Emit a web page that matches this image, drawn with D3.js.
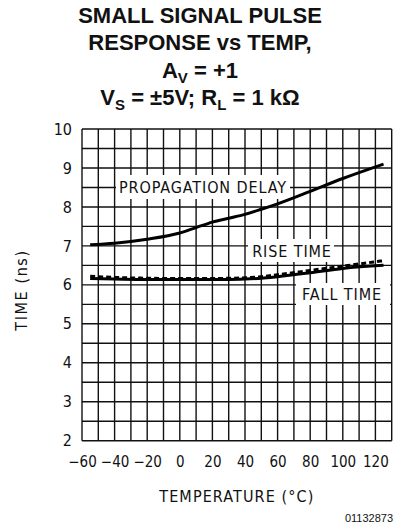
<!DOCTYPE html>
<html>
<head>
<meta charset="utf-8">
<script src="https://cdn.jsdelivr.net/npm/d3@7"></script>
<style>
  html, body { margin: 0; padding: 0; background: #fff; }
  svg { display: block; }
  .lbl { font-family: "Liberation Sans Narrow", "DejaVu Sans Condensed", "Liberation Sans", sans-serif; }
</style>
</head>
<body>
<svg id="chart" width="394" height="531"></svg>
<script>
// ---- data ----
const temps = [-55, -40, -20, 0, 10, 20, 30, 40, 50, 60, 80, 100, 125];
const propagationDelay = [7.03, 7.07, 7.17, 7.33, 7.47, 7.61, 7.71, 7.81, 7.94, 8.08, 8.4, 8.73, 9.1];
const riseTime = [6.22, 6.19, 6.17, 6.16, 6.16, 6.16, 6.17, 6.18, 6.21, 6.26, 6.37, 6.48, 6.62];
const fallTime = [6.16, 6.15, 6.14, 6.14, 6.14, 6.14, 6.14, 6.15, 6.17, 6.21, 6.31, 6.42, 6.5];
const xTickLabels = [-60, -40, -20, 0, 20, 40, 60, 80, 100, 120];
const yTickLabels = [2, 3, 4, 5, 6, 7, 8, 9, 10];
const xDomain = [-60, 130];
const yDomain = [2, 10];

const svg = d3.select("#chart");
const L = 82, R = 391.7, T = 129, B = 440.7;
const x = d3.scaleLinear().domain(xDomain).range([L, R]);
const y = d3.scaleLinear().domain(yDomain).range([B, T]);
const narrow = "Liberation Sans Narrow, DejaVu Sans Condensed, sans-serif";

// title
const tx = 200;
const tFont = "Liberation Sans, Arial, sans-serif";
function titleLine(yy) {
  return svg.append("text").attr("text-anchor", "middle").attr("x", tx).attr("y", yy)
    .attr("font-family", tFont).attr("font-weight", "bold").attr("font-size", 22).attr("fill", "#111");
}
titleLine(23).text("SMALL SIGNAL PULSE");
titleLine(50).text("RESPONSE vs TEMP,");
const l3 = titleLine(78);
l3.append("tspan").text("A");
l3.append("tspan").attr("font-size", 15).attr("dy", 5).text("V");
l3.append("tspan").attr("dy", -5).text(" = +1");
const l4 = titleLine(105);
l4.append("tspan").text("V");
l4.append("tspan").attr("font-size", 15).attr("dy", 5).text("S");
l4.append("tspan").attr("dy", -5).text(" = \u00B15V; R");
l4.append("tspan").attr("font-size", 15).attr("dy", 5).text("L");
l4.append("tspan").attr("dy", -5).text(" = 1 k\u03A9");

// grid
const g = svg.append("g");
const vTicks = d3.range(xDomain[0], xDomain[1] + 0.001, 10);
const hTicks = d3.range(yDomain[0], yDomain[1] + 0.001, 0.5);
g.selectAll("line.v").data(vTicks).join("line").attr("class", "v")
  .attr("x1", d => x(d)).attr("x2", d => x(d)).attr("y1", T).attr("y2", B)
  .attr("stroke", "#111").attr("stroke-width", 1.4);
g.selectAll("line.h").data(hTicks).join("line").attr("class", "h")
  .attr("x1", L).attr("x2", R).attr("y1", d => y(d)).attr("y2", d => y(d))
  .attr("stroke", "#111").attr("stroke-width", 1.4);

// axes labels
const xAxis = d3.axisBottom(x).tickValues(xTickLabels).tickSize(0).tickPadding(16);
const xa = svg.append("g").attr("transform", `translate(0,${B})`).call(xAxis);
xa.select(".domain").remove();
xa.selectAll("text").attr("font-size", 15).attr("fill", "#111").attr("letter-spacing", 0)
  .style("font-family", narrow);
const yAxis = d3.axisLeft(y).tickValues(yTickLabels).tickSize(0).tickPadding(10).tickFormat(d3.format("d"));
const ya = svg.append("g").attr("transform", `translate(${L},0)`).call(yAxis);
ya.select(".domain").remove();
ya.selectAll("text").attr("font-size", 16).attr("fill", "#111").style("font-family", narrow);

svg.append("text").attr("class", "lbl").attr("x", (L + R) / 2).attr("y", 502)
  .attr("text-anchor", "middle").attr("font-size", 16).attr("letter-spacing", 1.1).attr("fill", "#111")
  .text("TEMPERATURE (\u00B0C)");
svg.append("text").attr("class", "lbl").attr("transform", `translate(27,290) rotate(-90)`)
  .attr("text-anchor", "middle").attr("font-size", 16).attr("letter-spacing", 1.6).attr("fill", "#111")
  .text("TIME (ns)");
svg.append("text").attr("x", 393).attr("y", 522).attr("text-anchor", "end")
  .attr("font-family", "Liberation Sans, Arial, sans-serif").attr("font-size", 11).attr("fill", "#111")
  .text("01132873");

// curve labels with white boxes
const labels = [
  { text: "PROPAGATION DELAY", x0: 116, x1: 290, y0: 175, y1: 199, cx: 203, cy: 187.5 },
  { text: "RISE TIME", x0: 248, x1: 334, y0: 239, y1: 262, cx: 292, cy: 251 },
  { text: "FALL TIME", x0: 296, x1: 390, y0: 283, y1: 305, cx: 342, cy: 294 }
];
labels.forEach(lb => {
  svg.append("rect").attr("x", lb.x0).attr("y", lb.y0).attr("width", lb.x1 - lb.x0)
    .attr("height", lb.y1 - lb.y0).attr("fill", "#fff");
  svg.append("text").attr("class", "lbl").attr("x", lb.cx).attr("y", lb.cy)
    .attr("dy", "0.36em").attr("text-anchor", "middle").attr("font-size", 16)
    .attr("letter-spacing", 0.9).attr("fill", "#111").text(lb.text);
});

// curves
const line = d3.line().x(d => x(d[0])).y(d => y(d[1])).curve(d3.curveMonotoneX);
const mk = vals => temps.map((t, i) => [t, vals[i]]);
svg.append("path").attr("d", line(mk(propagationDelay))).attr("fill", "none")
  .attr("stroke", "#000").attr("stroke-width", 3);
svg.append("path").attr("d", line(mk(fallTime))).attr("fill", "none")
  .attr("stroke", "#000").attr("stroke-width", 3);
svg.append("path").attr("d", line(mk(riseTime))).attr("fill", "none")
  .attr("stroke", "#000").attr("stroke-width", 3).attr("stroke-dasharray", "5,3");
</script>
</body>
</html>
